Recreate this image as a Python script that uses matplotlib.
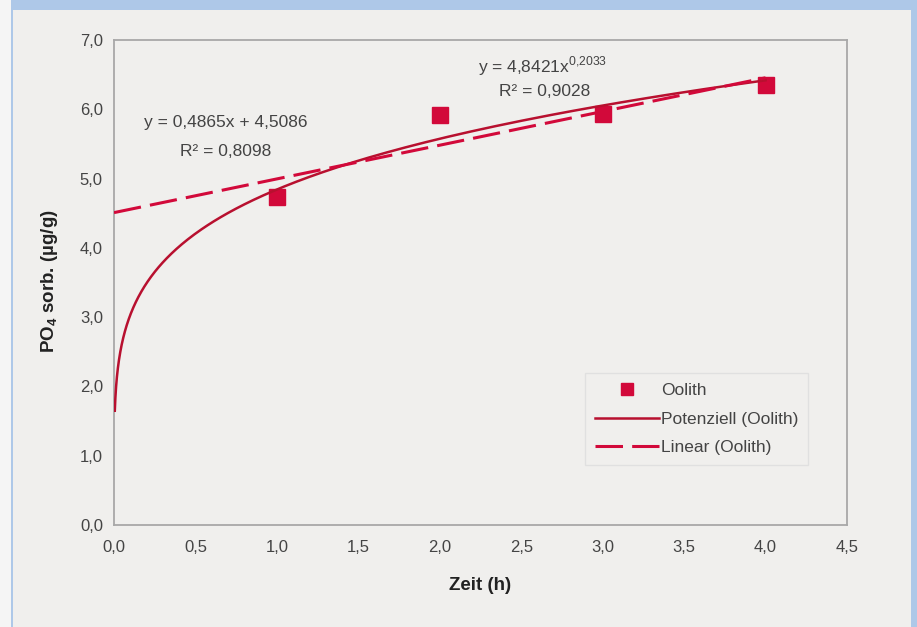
import numpy as np
import matplotlib
matplotlib.use("Agg")
import matplotlib.pyplot as plt
from matplotlib.patches import Rectangle

plt.rcParams['font.family'] = ['Liberation Sans', 'DejaVu Sans']
plt.rcParams['mathtext.fontset'] = 'custom'
plt.rcParams['mathtext.rm'] = 'Liberation Sans'
plt.rcParams['mathtext.bf'] = 'Liberation Sans:bold'

# data
zeit = [1.0, 2.0, 3.0, 4.0]
po4 = [4.74, 5.92, 5.93, 6.35]
pow_a, pow_b = 4.8421, 0.2033
lin_m, lin_c = 0.4865, 4.5086
xticks = [0.0, 0.5, 1.0, 1.5, 2.0, 2.5, 3.0, 3.5, 4.0, 4.5]
yticks = [0.0, 1.0, 2.0, 3.0, 4.0, 5.0, 6.0, 7.0]

bg = '#f0efed'
red = '#d2093a'
dark_red = '#b8102f'
txt = '#444444'
W, H = 917, 627

fig = plt.figure(figsize=(9.17, 6.27), dpi=100, facecolor=bg)
# frame decorations
fig.patches.append(Rectangle((0, 1 - 10 / H), 1, 10 / H, transform=fig.transFigure,
                             facecolor='#aec8e8', edgecolor='none'))
fig.patches.append(Rectangle((0, 0), 12 / W, 1, transform=fig.transFigure,
                             facecolor='#f5f5f5', edgecolor='none'))
fig.patches.append(Rectangle((11 / W, 0), 2 / W, 1, transform=fig.transFigure,
                             facecolor='#aec8e8', edgecolor='none'))
fig.patches.append(Rectangle((911 / W, 0), 6 / W, 1, transform=fig.transFigure,
                             facecolor='#aec8e8', edgecolor='none'))

ax = fig.add_axes([114 / W, 1 - 525 / H, 733 / W, 485 / H])
ax.set_facecolor(bg)

xp = np.logspace(np.log10(0.005), np.log10(4.0), 400)
ax.plot(xp, pow_a * xp ** pow_b, color=dark_red, lw=1.8, label='Potenziell (Oolith)', zorder=5)
xl = np.array([0.0, 4.0])
ax.plot(xl, lin_m * xl + lin_c, color=red, lw=2.2, linestyle=(0, (9, 3)),
        label='Linear (Oolith)', zorder=5)
ax.plot(zeit, po4, linestyle='none', marker='s', markersize=11, color=red,
        label='Oolith', zorder=4)

ax.set_xlim(0, 4.5)
ax.set_ylim(0, 7)
ax.set_xticks(xticks)
ax.set_yticks(yticks)
ax.set_xticklabels([f'{v:.1f}'.replace('.', ',') for v in xticks])
ax.set_yticklabels([f'{v:.1f}'.replace('.', ',') for v in yticks])
ax.tick_params(length=0, labelsize=12, labelcolor=txt)
ax.tick_params(axis='x', pad=11)
ax.tick_params(axis='y', pad=8)
for s in ax.spines.values():
    s.set_color('#a8a8a8')
    s.set_linewidth(1.3)

ax.set_xlabel('Zeit (h)', fontsize=13.5, fontweight='bold', color='#222222')
ax.xaxis.set_label_coords(0.5, (525 - 585) / 485)
ax.xaxis.label.set_va('center')
ax.set_ylabel(r'PO$_\mathbf{4}$ sorb. (µg/g)', fontsize=13.5, fontweight='bold',
              color='#222222')
ax.yaxis.set_label_coords((50 - 114) / 733, (525 - 281) / 485)
ax.yaxis.label.set_va('center')

fig.text(478 / W, 1 - 66 / H, r'y = 4,8421x$^{0{,}2033}$', fontsize=12.5, color=txt,
         ha='left', va='center')
fig.text(545 / W, 1 - 92 / H, 'R² = 0,9028', fontsize=12.5, color=txt,
         ha='center', va='center')
fig.text(226 / W, 1 - 123 / H, 'y = 0,4865x + 4,5086', fontsize=12.5, color=txt,
         ha='center', va='center')
fig.text(226 / W, 1 - 152 / H, 'R² = 0,8098', fontsize=12.5, color=txt,
         ha='center', va='center')

h, l = ax.get_legend_handles_labels()
order = [2, 0, 1]
leg = ax.legend([h[i] for i in order], [l[i] for i in order], loc='lower left',
                bbox_to_anchor=((585 - 114) / 733, (525 - 465) / 485), fontsize=12.5,
                frameon=True, fancybox=False, markerscale=0.8,
                handlelength=3.7, handletextpad=0.15, borderpad=0.55, labelspacing=0.78,
                borderaxespad=0)
leg.get_frame().set_facecolor(bg)
leg.get_frame().set_edgecolor('#dddddd')
for t in leg.get_texts():
    t.set_color(txt)

fig.savefig('out.png', dpi=100, facecolor=bg)
